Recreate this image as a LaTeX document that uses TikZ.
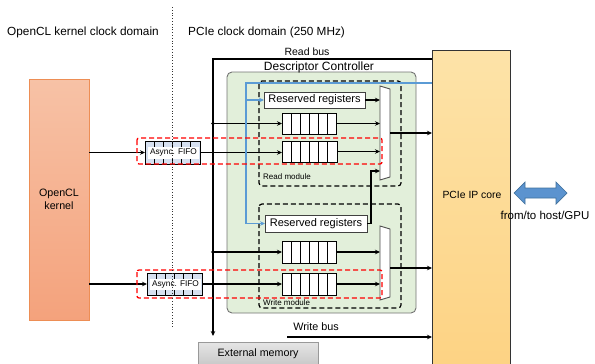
\documentclass[tikz,border=0pt]{standalone}
\usepackage{fontspec}
\setmainfont{Liberation Sans}
\usetikzlibrary{calc,arrows.meta}
\definecolor{kerneltop}{HTML}{F7C2A6}
\definecolor{kernelbot}{HTML}{F4A27C}
\definecolor{kernelline}{HTML}{ED8E55}
\definecolor{greenfill}{HTML}{E2EFDA}
\definecolor{pcietop}{HTML}{FDE3A8}
\definecolor{pciebot}{HTML}{FDD282}
\definecolor{blueline}{HTML}{5B9BD5}
\definecolor{bluefill}{HTML}{5B93CF}
\definecolor{blueedge}{HTML}{41719C}
\definecolor{cellfill}{HTML}{D6E0F0}
\begin{document}
\begin{tikzpicture}[x=1pt,y=-1pt,
  arr/.style={line width=1.1pt,-{Stealth[length=5pt,width=4.5pt]}},
  plain/.style={line width=1.1pt},
  bluearr/.style={line width=1.1pt,draw=blueline,-{Stealth[length=5pt,width=4.5pt]}},
  blk/.style={anchor=north west,inner sep=0pt,outer sep=0pt},
  regbox/.style={blk,draw=black!75,fill=white,line width=0.9pt,font=\fontsize{11}{13}\selectfont},
  queue/.style={blk,draw=black,fill=white,line width=0.9pt},
  afifo/.style={blk,draw=black,fill=cellfill,line width=0.8pt},
  reddash/.style={draw=red,line width=1.3pt,dash pattern=on 5pt off 3pt,rounded corners=2pt},
  moddash/.style={draw=black,line width=1.2pt,dash pattern=on 5pt off 3pt,rounded corners=3pt},
  muxshape/.style={draw=black!70,fill=white,line width=0.9pt},
  lbl/.style={inner sep=0pt}
]
\useasboundingbox (0,0) rectangle (595,364);

% titles
\node[lbl,font=\fontsize{11.8}{14}\selectfont] (t1) at (83,32) {OpenCL kernel clock domain};
\node[lbl,anchor=west,font=\fontsize{11.8}{14}\selectfont] (t2) at (188,32) {PCIe clock domain (250 MHz)};

% PCIe core
\node[blk,draw=black!80,line width=0.8pt,top color=pcietop,bottom color=pciebot,minimum width=78,minimum height=330] (pcie) at (432,50) {};
\node[lbl,font=\fontsize{10.4}{12}\selectfont] (pcielbl) at (472,195) {PCIe IP core};

% kernel
\node[blk,draw=kernelline,line width=1pt,top color=kerneltop,bottom color=kernelbot,minimum width=60,minimum height=241,align=center,font=\fontsize{10.7}{13}\selectfont] (kernel) at (29,79) {OpenCL\\kernel};

% descriptor controller
\node[blk,draw=black!55,line width=0.9pt,fill=greenfill,rounded corners=5pt,minimum width=189,minimum height=241] (dc) at (227,72) {};
\node[lbl,font=\fontsize{12}{14}\selectfont] (dclbl) at (319,67) {Descriptor Controller};

% modules
\draw[moddash] (259,81) rectangle (401,186);
\draw[moddash] (259,204) rectangle (401,308);
\node[lbl,anchor=west,font=\fontsize{8}{10}\selectfont] (rmlbl) at (263,177) {Read module};
\node[lbl,anchor=west,font=\fontsize{8}{10}\selectfont] (wmlbl) at (263,303) {Write module};

% reserved registers
\node[regbox,minimum width=101,minimum height=16] (rr1) at (264,92) {Reserved registers};
\node[regbox,minimum width=102,minimum height=17] (rr2) at (265,215) {Reserved registers};

% queues
\node[queue,minimum width=54,minimum height=21] (q1) at (282,113) {};
\node[queue,minimum width=55,minimum height=21] (q2) at (282,141) {};
\node[queue,minimum width=54,minimum height=22] (q3) at (282,241) {};
\node[queue,minimum width=54,minimum height=22] (q4) at (282,273) {};
\foreach \q in {q1,q2,q3,q4}{
  \foreach \i in {1,...,5}{
    \draw[line width=0.8pt] ($(\q.north west)!\i/6!(\q.north east)$) -- ($(\q.south west)!\i/6!(\q.south east)$);
  }
}

% async fifos
\node[afifo,minimum width=55,minimum height=23] (af1) at (145,141) {};
\node[afifo,minimum width=55,minimum height=22] (af2) at (147,273) {};
\foreach \q in {af1,af2}{
  \foreach \i in {1,...,5}{
    \draw[line width=0.8pt] ($(\q.north west)!\i/6!(\q.north east)$) -- ($(\q.south west)!\i/6!(\q.south east)$);
  }
}
\node[blk,fill=white,minimum width=51,minimum height=11.5,font=\fontsize{8.3}{10}\selectfont] (af1l) at (148,147) {Async. FIFO};
\node[blk,fill=white,minimum width=51,minimum height=11,font=\fontsize{8.3}{10}\selectfont] (af2l) at (150,278.5) {Async. FIFO};

% muxes
\node[blk,minimum width=10,minimum height=94] (m1) at (380,86) {};
\node[blk,minimum width=10,minimum height=74] (m2) at (380,226) {};
\foreach \m in {m1,m2}{
  \draw[muxshape] (\m.north west) -- ([yshift=-3pt]\m.north east) -- ([yshift=3pt]\m.south east) -- (\m.south west) -- cycle;
}

% external memory
\node[blk,draw=black!40,line width=0.8pt,top color=black!10,bottom color=black!22,minimum width=120,minimum height=24,font=\fontsize{10.7}{13}\selectfont] (ext) at (198,342) {External memory};

% read bus / vertical bus
\coordinate (bt) at (213,59);
\coordinate (bb) at (213,336);
\draw[arr] (pcie.west |- bt) -- (bt) -- (bb);
\node[lbl,font=\fontsize{10.5}{12}\selectfont] (rblbl) at (307,52) {Read bus};
\fill (bt |- q1.west) circle (1.9);
\fill (bt |- q3.west) circle (1.9);
\draw[arr] (bt |- q1.west) -- (q1.west);
\draw[arr] (bt |- q3.west) -- (q3.west);

% write bus
\coordinate (wb) at (287,337);
\draw[arr] (wb) -- (wb -| pcie.west);
\node[lbl,font=\fontsize{10.8}{12}\selectfont] (wblbl) at (316,327) {Write bus};

% kernel to async fifos
\draw[arr] (kernel.east |- af1.west) -- (af1.west);
\draw[arr] (kernel.east |- af2.west) -- (af2.west);
\draw[arr] (af1.east) -- (af1.east -| q2.west);
\draw[arr] (af2.east) -- (af2.east -| q4.west);

% queues to muxes
\draw[arr] (rr1.east) -- (rr1.east -| m1.west);
\foreach \q in {q1,q2}{ \draw[arr] (\q.east) -- (\q.east -| m1.west); }
\foreach \q in {q3,q4}{ \draw[arr] (\q.east) -- (\q.east -| m2.west); }
\coordinate (up) at (371,171);
\draw[arr] (rr2.east) -| (up) -- (up -| m1.west);

% mux outputs
\draw[arr] (m1.east) -- (m1.east -| pcie.west);
\coordinate (m2o) at (390,268);
\draw[arr] (m2o) -- (m2o -| pcie.west);

% blue control line
\coordinate (bl) at (246,83);
\draw[bluearr] (pcie.west |- bl) -- (bl) |- (rr2.west);
\draw[bluearr] (bl |- rr1.west) -- (rr1.west);

% red dashed groups
\draw[reddash] (137,138) rectangle (382,164);
\draw[reddash] (137,270) rectangle (382,298);

% clock domain divider
\draw[line width=0.8pt,dotted,black!80] (172,7) -- (172,328);

% host link
\draw[fill=bluefill,draw=blueedge,line width=0.7pt] (514,193) -- (525,182) -- (525,188) -- (556,188) -- (556,182) -- (567,193) -- (556,204) -- (556,198) -- (525,198) -- (525,204) -- cycle;
\node[lbl,font=\fontsize{11.5}{13}\selectfont] (hostlbl) at (545,215) {from/to host/GPU};

\end{tikzpicture}
\end{document}
